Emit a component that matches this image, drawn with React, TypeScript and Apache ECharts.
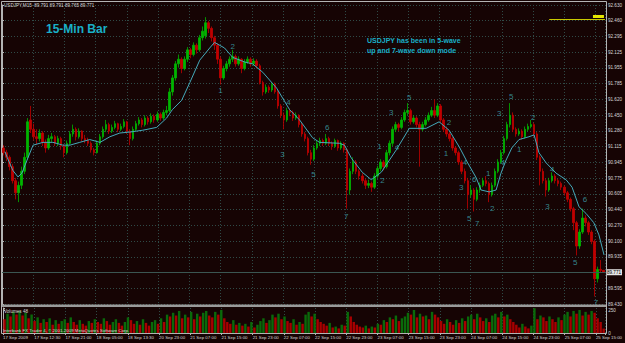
import React, { useEffect, useRef } from 'react';
import * as echarts from 'echarts';

// [open, high, low, close] for each 15-minute bar (approximate)
const candles: number[][] = [
  [91.10,91.13,91.02,91.05],[91.05,91.08,90.96,91.00],[91.00,91.02,90.86,90.90],[90.90,90.93,90.72,90.75],[90.75,90.78,90.55,90.62],
  [90.62,90.74,90.52,90.70],[90.70,90.90,90.66,90.85],[90.85,91.05,90.82,91.00],[91.00,91.42,90.97,91.38],[91.40,91.55,91.26,91.30],
  [91.30,91.36,91.18,91.22],[91.22,91.30,91.14,91.20],[91.20,91.30,91.17,91.26],[91.26,91.28,91.12,91.16],[91.16,91.19,91.05,91.10],
  [91.10,91.24,91.08,91.20],[91.20,91.26,91.16,91.22],[91.22,91.24,91.12,91.15],[91.15,91.23,91.12,91.20],[91.20,91.22,91.08,91.12],
  [91.12,91.14,91.00,91.05],[91.05,91.18,91.03,91.15],[91.15,91.28,91.13,91.25],[91.25,91.35,91.22,91.30],[91.30,91.32,91.18,91.22],
  [91.22,91.31,91.20,91.28],[91.28,91.29,91.17,91.20],[91.20,91.24,91.15,91.18],[91.18,91.21,91.12,91.15],[91.15,91.17,91.05,91.08],
  [91.08,91.10,91.02,91.05],[91.05,91.18,91.04,91.15],[91.15,91.25,91.13,91.22],[91.22,91.33,91.20,91.30],[91.30,91.40,91.27,91.35],
  [91.35,91.37,91.25,91.28],[91.28,91.35,91.26,91.32],[91.32,91.39,91.30,91.36],[91.36,91.37,91.27,91.30],[91.30,91.36,91.28,91.33],
  [91.33,91.41,91.31,91.38],[91.38,91.39,91.25,91.28],[91.28,91.30,91.13,91.20],[91.20,91.33,91.18,91.30],[91.30,91.39,91.28,91.36],
  [91.36,91.43,91.34,91.40],[91.40,91.42,91.32,91.35],[91.35,91.45,91.33,91.42],[91.42,91.44,91.35,91.38],[91.38,91.47,91.36,91.44],
  [91.44,91.46,91.37,91.40],[91.40,91.49,91.38,91.46],[91.46,91.48,91.39,91.42],[91.42,91.51,91.40,91.48],[91.48,91.55,91.45,91.50],
  [91.50,91.74,91.48,91.70],[91.70,91.88,91.66,91.85],[91.85,92.03,91.82,92.00],[92.00,92.10,91.96,92.05],[92.05,92.07,91.90,91.95],
  [91.95,92.08,91.93,92.05],[92.05,92.18,92.02,92.15],[92.15,92.17,92.06,92.10],[92.10,92.23,92.08,92.20],[92.20,92.22,92.11,92.15],
  [92.15,92.31,92.13,92.28],[92.28,92.40,92.25,92.35],[92.30,92.50,92.27,92.44],[92.44,92.46,92.33,92.38],[92.38,92.40,92.24,92.28],
  [92.28,92.30,92.15,92.20],[92.20,92.22,92.00,92.05],[92.05,92.08,91.78,91.85],[91.85,91.98,91.83,91.95],[91.95,92.03,91.92,92.00],
  [92.00,92.08,91.97,92.05],[92.05,92.15,92.02,92.08],[92.08,92.10,91.97,92.00],[92.00,92.08,91.98,92.05],[92.05,92.06,91.90,91.95],
  [91.95,92.05,91.93,92.02],[92.02,92.08,92.00,92.05],[92.05,92.07,91.97,92.00],[92.00,92.06,91.98,92.03],[92.03,92.05,91.95,91.98],
  [91.98,92.00,91.78,91.80],[91.80,91.82,91.66,91.70],[91.70,91.78,91.68,91.75],[91.75,91.77,91.69,91.72],[91.72,91.80,91.70,91.78],
  [91.78,91.80,91.68,91.70],[91.70,91.72,91.52,91.55],[91.55,91.57,91.42,91.45],[91.45,91.48,91.30,91.40],[91.40,91.53,91.38,91.50],
  [91.50,91.52,91.44,91.48],[91.48,91.50,91.39,91.42],[91.42,91.48,91.40,91.45],[91.45,91.46,91.32,91.35],[91.35,91.37,91.22,91.25],
  [91.25,91.27,91.17,91.20],[91.20,91.22,91.02,91.05],[91.05,91.08,90.92,90.98],[90.98,91.13,90.96,91.10],[91.10,91.18,91.08,91.15],
  [91.15,91.21,91.12,91.18],[91.18,91.20,91.12,91.15],[91.15,91.25,91.13,91.20],[91.20,91.22,91.12,91.15],[91.15,91.17,91.08,91.12],
  [91.12,91.20,91.10,91.18],[91.18,91.19,91.07,91.10],[91.10,91.17,91.08,91.15],[91.15,91.16,91.05,91.08],[91.08,91.10,90.45,90.65],
  [90.65,90.88,90.60,90.85],[90.85,91.00,90.82,90.95],[90.95,90.97,90.82,90.85],[90.85,90.87,90.76,90.80],[90.80,90.83,90.72,90.75],
  [90.75,90.77,90.66,90.70],[90.70,90.76,90.67,90.72],[90.72,90.74,90.63,90.68],[90.68,90.83,90.66,90.80],[90.80,90.91,90.78,90.88],
  [90.88,90.98,90.85,90.95],[90.95,90.97,90.86,90.90],[90.90,91.08,90.88,91.05],[91.05,91.18,91.02,91.15],[91.15,91.33,91.12,91.30],
  [91.30,91.38,91.27,91.35],[91.35,91.37,91.28,91.32],[91.32,91.43,91.30,91.40],[91.40,91.51,91.38,91.48],[91.48,91.58,91.45,91.50],
  [91.50,91.52,91.35,91.38],[91.38,91.45,91.36,91.42],[91.42,91.44,91.32,91.35],[91.35,91.38,90.90,91.30],[91.30,91.38,91.28,91.35],
  [91.35,91.43,91.33,91.40],[91.40,91.48,91.38,91.45],[91.45,91.54,91.43,91.50],[91.50,91.62,91.42,91.45],[91.45,91.58,91.43,91.55],
  [91.55,91.57,91.37,91.40],[91.40,91.42,91.27,91.30],[91.30,91.33,91.22,91.25],[91.25,91.27,91.17,91.20],[91.20,91.22,91.07,91.10],
  [91.10,91.12,91.02,91.05],[91.05,91.07,90.92,90.95],[90.95,90.97,90.82,90.85],[90.85,90.88,90.72,90.75],[90.75,90.78,90.45,90.60],
  [90.60,90.70,90.57,90.65],[90.65,90.67,90.42,90.55],[90.55,90.68,90.53,90.65],[90.65,90.73,90.62,90.70],[90.70,90.78,90.68,90.75],
  [90.75,90.80,90.69,90.72],[90.72,90.74,90.52,90.60],[90.60,90.73,90.58,90.70],[90.70,90.88,90.68,90.85],[90.85,90.98,90.83,90.95],
  [90.95,91.08,90.93,91.05],[91.05,91.23,91.03,91.20],[91.20,91.38,91.18,91.35],[91.35,91.58,91.32,91.45],[91.45,91.48,91.27,91.30],
  [91.30,91.32,91.22,91.25],[91.25,91.31,91.23,91.28],[91.28,91.30,91.19,91.22],[91.22,91.33,91.20,91.30],[91.30,91.36,91.28,91.33],
  [91.33,91.40,91.31,91.35],[91.35,91.37,91.22,91.25],[91.25,91.27,90.97,91.00],[91.00,91.02,90.70,90.85],[90.85,90.88,90.72,90.75],
  [90.75,90.77,90.58,90.65],[90.65,90.78,90.63,90.75],[90.75,90.84,90.73,90.80],[90.80,90.82,90.72,90.75],[90.75,90.77,90.69,90.72],
  [90.72,90.74,90.65,90.68],[90.68,90.70,90.59,90.62],[90.62,90.64,90.52,90.55],[90.55,90.57,90.42,90.45],[90.45,90.47,90.22,90.30],
  [90.30,90.32,89.95,90.05],[90.05,90.23,90.02,90.20],[90.20,90.45,90.18,90.35],[90.35,90.38,90.26,90.30],[90.30,90.32,90.17,90.20],
  [90.20,90.22,90.07,90.10],[90.10,90.12,89.51,89.70],[89.70,89.83,89.66,89.80],[89.80,89.90,89.77,89.79],[89.791,89.791,89.765,89.771],
];

const volumes: number[] = [
  150,210,180,230,200,240,190,220,160,200, 130,170,110,150,120,160,90,140,100,130,
  150,110,170,120,90,140,100,80,130,110, 150,120,100,160,130,90,120,150,110,80,
  120,170,140,100,130,90,150,110,80,120, 140,100,160,120,200,180,220,190,240,160,
  200,170,230,150,210,180,220,240,190,170, 230,200,250,160,120,100,140,90,110,80,
  100,70,120,60,90,130,160,110,140,200, 170,210,150,180,130,110,150,90,120,100,
  200,230,180,210,150,120,100,80,110,60, 70,50,90,80,230,180,120,90,70,60,
  80,50,70,60,100,90,140,120,170,150, 190,130,160,180,220,200,250,170,210,180,
  190,150,230,200,170,130,100,150,120,90, 140,110,160,130,180,200,150,210,170,130,
  160,120,190,210,170,230,180,200,150,120, 90,60,100,70,50,80,270,150,190,170,
  130,180,150,120,170,140,200,230,180,240, 210,250,190,230,200,240,220,160,120,48,
];

// moving average line: bar index and value
const maIdx = [0.5,1.2,3.1,4.8,6.1,7.8,9.8,13.1,16.4,19.7,22,25.3,28.6,32,35.3,38.6,41.9,46.2,50.8,54.1,56,59.1,61.8,65.1,68.4,70,73.3,76,80,82.6,86,90.6,94.9,98.2,102.5,104.8,111.4,113.1,115.4,119,122,125.3,130.3,134.6,140.2,144.5,147.8,151.2,153.8,156.8,158.4,161.1,163.4,165,166.7,168.6,171,174.3,176,177.6,180,183.3,186.6,188.6,190.9,193.2,195.8,197.5,199.2];
const maVal = [91.06,91.00,90.86,90.79,90.83,90.97,91.13,91.16,91.16,91.13,91.13,91.16,91.19,91.16,91.22,91.26,91.27,91.29,91.32,91.42,91.51,91.61,91.80,92.04,92.17,92.23,92.17,92.07,92.02,92.00,91.91,91.74,91.51,91.40,91.21,91.16,91.15,91.13,90.99,90.84,90.76,90.84,91.08,91.31,91.31,91.38,91.29,91.11,90.95,90.78,90.65,90.63,90.65,90.83,90.97,91.10,91.19,91.22,91.24,91.05,90.94,90.83,90.76,90.68,90.47,90.40,90.30,90.17,89.955];

// Elliott wave count labels
const waveText = ['1','2','3','4','5','6','7','1','2','3','4','5','1','2','3','4','5','6','7','1','2','3','4','5','1','2','3','4','5','6','7'];
const waveIdx = [72.0,76.0,92.5,94.5,102.8,107.4,113.7,124.7,125.7,128.6,130.5,134.6,146.8,147.8,151.8,153.1,154.5,156.1,157.1,160.8,162.1,164.4,165.7,168.4,171.1,175.7,180.4,182.0,189.6,192.9,196.5];
const wavePrice = [91.72,92.19,91.025,91.59,90.82,91.32,90.37,91.12,90.75,91.48,91.10,91.64,91.04,91.37,90.68,90.94,90.34,90.76,90.29,90.83,90.45,91.47,90.94,91.65,91.08,91.43,90.47,90.87,89.87,90.55,89.45];

const priceTicks = ['89.430','89.595','89.765','89.935','90.100','90.270','90.440','90.605','90.775','90.945','91.115','91.280','91.450','91.620','91.785','91.955','92.125','92.295','92.460','92.630'];
const timeLabels = ['17 Sep 2009','17 Sep 12:30','17 Sep 21:00','18 Sep 05:00','18 Sep 13:30','20 Sep 23:00','21 Sep 07:00','21 Sep 15:00','21 Sep 23:00','22 Sep 07:00','22 Sep 15:00','22 Sep 23:00','23 Sep 07:00','23 Sep 15:00','23 Sep 23:00','24 Sep 07:00','24 Sep 15:00','24 Sep 23:00','25 Sep 07:00','25 Sep 15:00'];
const volTicks = [0, 250];
const alertPrice = 92.48;
const alertStartIdx = 181;

const BG = '#160404';
const GRID = '#2f4a47';
const AXIS = '#b4b4b4';
const TXT = '#d8d8d8';
const UP = '#00b400';
const DOWN = '#c00000';
const VOL_UP = '#0a6a0a';
const VOL_DOWN = '#a80000';
const MA = '#44aabb';
const WAVE = '#3ea7b0';
const CYAN = '#19b0c8';
const FONT = 'Liberation Sans';

export default function App() {
  const ref = useRef<HTMLDivElement>(null);
  useEffect(() => {
    const chart = echarts.init(ref.current!, null, { renderer: 'svg' });
    const n = candles.length;
    const cats = candles.map((_, i) => String(i));
    const kData = candles.map(([o, h, l, c]) => [o, c, l, h]);
    const volData = volumes.map((v, i) => ({
      value: v,
      itemStyle: { color: i > 0 && v > volumes[i - 1] ? VOL_UP : VOL_DOWN },
    }));
    const last = candles[n - 1];
    const lastClose = last[3];
    const timeMax = 604 / 31.3;
    const dotted = { color: GRID, type: [1, 2], width: 1 };

    const option: any = {
      animation: false,
      backgroundColor: BG,
      grid: [
        { left: 2, top: 5, width: 604, height: 299 },
        { left: 2, top: 308, width: 604, height: 25 },
      ],
      xAxis: [
        { type: 'category', gridIndex: 0, data: cats, show: false, boundaryGap: true },
        { type: 'value', gridIndex: 0, min: -0.5, max: n - 0.5, show: false },
        {
          type: 'value', gridIndex: 0, min: 0, max: timeMax, interval: 1,
          axisLine: { show: false }, axisTick: { show: false }, axisLabel: { show: false },
          splitLine: { show: true, lineStyle: dotted },
        },
        { type: 'category', gridIndex: 1, data: cats, show: false, boundaryGap: true },
        {
          type: 'value', gridIndex: 1, min: 0, max: timeMax, interval: 1, position: 'bottom',
          axisLine: { show: true, lineStyle: { color: AXIS } },
          axisTick: { show: true, length: 2, lineStyle: { color: AXIS } },
          axisLabel: {
            show: true, color: TXT, fontSize: 4.4, fontFamily: FONT, align: 'left', margin: 2,
            formatter: (v: number) => (Number.isInteger(v) && timeLabels[v] ? timeLabels[v] : ''),
          },
          splitLine: { show: true, lineStyle: dotted },
        },
      ],
      yAxis: [
        { type: 'value', gridIndex: 0, min: 89.43, max: 92.63, show: false },
        {
          type: 'value', gridIndex: 0, min: 0, max: priceTicks.length - 1, interval: 1, position: 'right',
          axisLine: { show: true, lineStyle: { color: AXIS } },
          axisTick: { show: true, length: 2, lineStyle: { color: AXIS } },
          axisLabel: {
            color: TXT, fontSize: 4.6, fontFamily: FONT, margin: 3,
            formatter: (v: number) => (Number.isInteger(v) && priceTicks[v] ? priceTicks[v] : ''),
          },
          splitLine: { show: true, lineStyle: dotted },
        },
        {
          type: 'value', gridIndex: 1, min: 0, max: 272, interval: 250, position: 'right',
          axisLine: { show: true, lineStyle: { color: AXIS } },
          axisTick: { show: true, length: 2, lineStyle: { color: AXIS } },
          axisLabel: {
            color: TXT, fontSize: 4.6, fontFamily: FONT, margin: 3,
            formatter: (v: number) => (volTicks.includes(v) ? String(v) : ''),
          },
          splitLine: { show: false },
        },
      ],
      series: [
        {
          type: 'candlestick', xAxisIndex: 0, yAxisIndex: 0, data: kData, barWidth: 2,
          itemStyle: { color: UP, color0: DOWN, borderColor: UP, borderColor0: DOWN, borderWidth: 0.8 },
        },
        {
          type: 'line', xAxisIndex: 1, yAxisIndex: 0, showSymbol: false, z: 3,
          data: maIdx.map((x, k) => [x, maVal[k]]),
          lineStyle: { color: MA, width: 1 },
          markLine: {
            silent: true, symbol: ['none', 'none'], animation: false,
            data: [
              {
                yAxis: lastClose,
                lineStyle: { color: '#3b5652', type: 'solid', width: 1 },
                label: {
                  show: true, position: 'end', formatter: lastClose.toFixed(3), color: '#000',
                  backgroundColor: '#e4e4e4', fontSize: 4.6, fontFamily: FONT, padding: [1, 1, 0, 1], distance: 1,
                },
              },
              [
                {
                  coord: [alertStartIdx, alertPrice],
                  lineStyle: { color: '#c8c800', type: 'solid', width: 1 },
                  label: {
                    show: true, position: 'insideEndTop', distance: 1, formatter: '{a|}',
                    rich: { a: { width: 11, height: 3, backgroundColor: '#e6e600' } },
                  },
                },
                { coord: [n - 0.5, alertPrice] },
              ],
            ],
          },
        },
        {
          type: 'scatter', xAxisIndex: 1, yAxisIndex: 0, symbolSize: 1, z: 4,
          itemStyle: { color: 'transparent' },
          data: waveIdx.map((x, k) => ({ name: waveText[k], value: [x, wavePrice[k]] })),
          label: {
            show: true, position: 'inside', color: WAVE, fontSize: 8, fontFamily: FONT,
            formatter: (p: any) => p.name,
          },
        },
        {
          type: 'bar', xAxisIndex: 3, yAxisIndex: 2, data: volData, barCategoryGap: '20%',
        },
      ],
      graphic: [
        {
          type: 'text', left: 4, top: 3, z: 10,
          style: {
            text: `USDJPY,M15  ${last[0].toFixed(3)} ${last[1].toFixed(3)} ${last[2].toFixed(3)} ${last[3].toFixed(3)}`,
            fill: TXT, font: `4.6px "${FONT}"`,
          },
        },
        {
          type: 'text', left: 46, top: 23, z: 10,
          style: { text: '15-Min Bar', fill: CYAN, font: `bold 12px "${FONT}"` },
        },
        {
          type: 'text', left: 367, top: 35, z: 10,
          style: { text: 'USDJPY has been in 5-wave\nup and 7-wave down mode', fill: CYAN, font: `bold 7px "${FONT}"`, lineHeight: 10 },
        },
        {
          type: 'text', left: 4, top: 309, z: 10,
          style: { text: `Volumes ${volumes[volumes.length - 1]}`, fill: TXT, font: `4.6px "${FONT}"` },
        },
        {
          type: 'text', left: 3, top: 328, z: 10,
          style: { text: 'Interbank FX Trader 4, © 2001-2009 MetaQuotes Software Corp.', fill: TXT, font: `4.4px "${FONT}"` },
        },
        {
          type: 'rect', z: 9, silent: true,
          shape: { x: 1.5, y: 1.5, width: 605, height: 332 },
          style: { fill: 'none', stroke: AXIS, lineWidth: 1 },
        },
        {
          type: 'rect', z: 9, silent: true,
          shape: { x: 2, y: 304.5, width: 604, height: 2.5 },
          style: { fill: '#9a9a9a' },
        },
      ],
    };
    chart.setOption(option);
    return () => chart.dispose();
  }, []);
  return <div ref={ref} style={{ position: 'fixed', left: 0, top: 0, width: 625, height: 343 }} />;
}
